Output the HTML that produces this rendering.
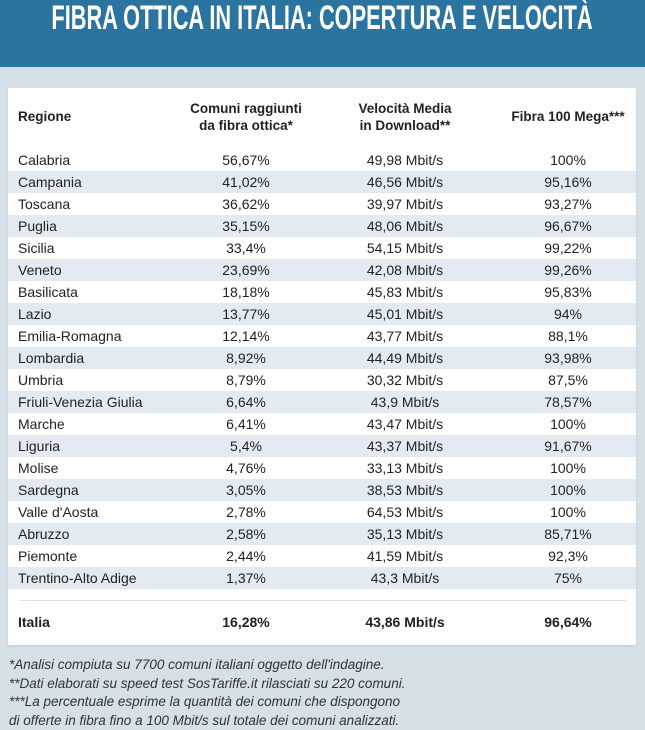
<!DOCTYPE html>
<html><head><meta charset="utf-8"><style>
*{margin:0;padding:0;box-sizing:border-box}
body{width:645px;height:720px;overflow:hidden;background:#d5e0e7;font-family:"Liberation Sans",sans-serif;color:#222;position:relative}
.hdr{position:absolute;left:0;top:0;width:645px;height:67px;background:#2b749f}
.title{position:absolute;left:322px;top:-1px;color:#fff;font-family:"Liberation Sans",sans-serif;font-weight:bold;font-size:34px;white-space:nowrap;transform:translateX(-50%) scaleX(0.64);transform-origin:center}
.card{position:absolute;left:8px;top:88px;width:628px;height:557px;background:#fff;box-shadow:0 1px 2px rgba(0,0,0,.1)}
.row{position:absolute;left:0;width:628px;height:22px;font-size:14px;line-height:22px}
.row.s{background:#e3eaf1}
.c1{position:absolute;left:10px}
.c2,.c3,.c4{position:absolute;width:160px;text-align:center}
.c2{left:158px}.c3{left:317px}.c4{left:480px}
.h{position:absolute;font-weight:bold;font-size:13.5px;line-height:17px;text-align:center}
.fn{position:absolute;left:9px;font-style:italic;font-size:13.5px;color:#333;line-height:18.5px;top:656px}
</style></head><body>
<div class="hdr"></div>
<div class="title">FIBRA OTTICA IN ITALIA: COPERTURA E VELOCITÀ</div>
<div class="card">
<div class="h" style="left:10px;top:20px;text-align:left">Regione</div>
<div class="h" style="left:158px;top:12px;width:160px">Comuni raggiunti<br>da fibra ottica*</div>
<div class="h" style="left:317px;top:12px;width:160px">Velocità Media<br>in Download**</div>
<div class="h" style="left:480px;top:20px;width:160px">Fibra 100 Mega***</div>
<div class="row" style="top:61px"><span class="c1">Calabria</span><span class="c2">56,67%</span><span class="c3">49,98 Mbit/s</span><span class="c4">100%</span></div>
<div class="row s" style="top:83px"><span class="c1">Campania</span><span class="c2">41,02%</span><span class="c3">46,56 Mbit/s</span><span class="c4">95,16%</span></div>
<div class="row" style="top:105px"><span class="c1">Toscana</span><span class="c2">36,62%</span><span class="c3">39,97 Mbit/s</span><span class="c4">93,27%</span></div>
<div class="row s" style="top:127px"><span class="c1">Puglia</span><span class="c2">35,15%</span><span class="c3">48,06 Mbit/s</span><span class="c4">96,67%</span></div>
<div class="row" style="top:149px"><span class="c1">Sicilia</span><span class="c2">33,4%</span><span class="c3">54,15 Mbit/s</span><span class="c4">99,22%</span></div>
<div class="row s" style="top:171px"><span class="c1">Veneto</span><span class="c2">23,69%</span><span class="c3">42,08 Mbit/s</span><span class="c4">99,26%</span></div>
<div class="row" style="top:193px"><span class="c1">Basilicata</span><span class="c2">18,18%</span><span class="c3">45,83 Mbit/s</span><span class="c4">95,83%</span></div>
<div class="row s" style="top:215px"><span class="c1">Lazio</span><span class="c2">13,77%</span><span class="c3">45,01 Mbit/s</span><span class="c4">94%</span></div>
<div class="row" style="top:237px"><span class="c1">Emilia-Romagna</span><span class="c2">12,14%</span><span class="c3">43,77 Mbit/s</span><span class="c4">88,1%</span></div>
<div class="row s" style="top:259px"><span class="c1">Lombardia</span><span class="c2">8,92%</span><span class="c3">44,49 Mbit/s</span><span class="c4">93,98%</span></div>
<div class="row" style="top:281px"><span class="c1">Umbria</span><span class="c2">8,79%</span><span class="c3">30,32 Mbit/s</span><span class="c4">87,5%</span></div>
<div class="row s" style="top:303px"><span class="c1">Friuli-Venezia Giulia</span><span class="c2">6,64%</span><span class="c3">43,9 Mbit/s</span><span class="c4">78,57%</span></div>
<div class="row" style="top:325px"><span class="c1">Marche</span><span class="c2">6,41%</span><span class="c3">43,47 Mbit/s</span><span class="c4">100%</span></div>
<div class="row s" style="top:347px"><span class="c1">Liguria</span><span class="c2">5,4%</span><span class="c3">43,37 Mbit/s</span><span class="c4">91,67%</span></div>
<div class="row" style="top:369px"><span class="c1">Molise</span><span class="c2">4,76%</span><span class="c3">33,13 Mbit/s</span><span class="c4">100%</span></div>
<div class="row s" style="top:391px"><span class="c1">Sardegna</span><span class="c2">3,05%</span><span class="c3">38,53 Mbit/s</span><span class="c4">100%</span></div>
<div class="row" style="top:413px"><span class="c1">Valle d'Aosta</span><span class="c2">2,78%</span><span class="c3">64,53 Mbit/s</span><span class="c4">100%</span></div>
<div class="row s" style="top:435px"><span class="c1">Abruzzo</span><span class="c2">2,58%</span><span class="c3">35,13 Mbit/s</span><span class="c4">85,71%</span></div>
<div class="row" style="top:457px"><span class="c1">Piemonte</span><span class="c2">2,44%</span><span class="c3">41,59 Mbit/s</span><span class="c4">92,3%</span></div>
<div class="row s" style="top:479px"><span class="c1">Trentino-Alto Adige</span><span class="c2">1,37%</span><span class="c3">43,3 Mbit/s</span><span class="c4">75%</span></div>
<div style="position:absolute;left:11px;top:512px;width:607px;height:1px;background:#dde3e8"></div>
<div class="row" style="top:523px;font-weight:bold"><span class="c1">Italia</span><span class="c2">16,28%</span><span class="c3">43,86 Mbit/s</span><span class="c4">96,64%</span></div>
</div>
<div class="fn">*Analisi compiuta su 7700 comuni italiani oggetto dell'indagine.<br>**Dati elaborati su speed test SosTariffe.it rilasciati su 220 comuni.<br>***La percentuale esprime la quantità dei comuni che dispongono<br>di offerte in fibra fino a 100 Mbit/s sul totale dei comuni analizzati.</div>
</body></html>
